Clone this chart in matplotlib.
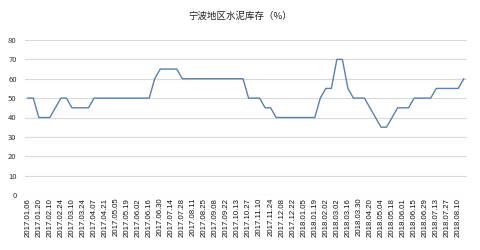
import matplotlib
matplotlib.use("Agg")
import matplotlib.pyplot as plt

plt.rcParams['font.family'] = ['Noto Sans CJK SC', 'DejaVu Sans']

title = "宁波地区水泥库存（%）"

dates = [
    "2017.01.06", "2017.01.13", "2017.01.20", "2017.01.27", "2017.02.10", "2017.02.17",
    "2017.02.24", "2017.03.03", "2017.03.10", "2017.03.17", "2017.03.24", "2017.03.31",
    "2017.04.07", "2017.04.14", "2017.04.21", "2017.04.28", "2017.05.05", "2017.05.12",
    "2017.05.19", "2017.05.26", "2017.06.02", "2017.06.09", "2017.06.16", "2017.06.23",
    "2017.06.30", "2017.07.07", "2017.07.14", "2017.07.21", "2017.07.28", "2017.08.04",
    "2017.08.11", "2017.08.18", "2017.08.25", "2017.09.01", "2017.09.08", "2017.09.15",
    "2017.09.22", "2017.09.29", "2017.10.13", "2017.10.20", "2017.10.27", "2017.11.03",
    "2017.11.10", "2017.11.17", "2017.11.24", "2017.12.01", "2017.12.08", "2017.12.15",
    "2017.12.22", "2017.12.29", "2018.01.05", "2018.01.12", "2018.01.19", "2018.01.26",
    "2018.02.02", "2018.02.09", "2018.03.02", "2018.03.09", "2018.03.16", "2018.03.23",
    "2018.03.30", "2018.04.13", "2018.04.20", "2018.04.27", "2018.05.04", "2018.05.11",
    "2018.05.18", "2018.05.25", "2018.06.01", "2018.06.08", "2018.06.15", "2018.06.22",
    "2018.06.29", "2018.07.06", "2018.07.13", "2018.07.20", "2018.07.27", "2018.08.03",
    "2018.08.10", "2018.08.17",
]

values = [
    50, 50, 40, 40, 40, 45, 50, 50, 45, 45,
    45, 45, 50, 50, 50, 50, 50, 50, 50, 50,
    50, 50, 50, 60, 65, 65, 65, 65, 60, 60,
    60, 60, 60, 60, 60, 60, 60, 60, 60, 60,
    50, 50, 50, 45, 45, 40, 40, 40, 40, 40,
    40, 40, 40, 50, 55, 55, 70, 70, 55, 50,
    50, 50, 45, 40, 35, 35, 40, 45, 45, 45,
    50, 50, 50, 50, 55, 55, 55, 55, 55, 60,
]

yticks = [0, 10, 20, 30, 40, 50, 60, 70, 80]

fig = plt.figure(figsize=(4.81, 2.5), dpi=100)
ax = fig.add_axes([0.052, 0.22, 0.918, 0.62])

x = list(range(len(values)))
ax.plot(x, values, color="#5b80aa", linewidth=1.0)

ax.set_xlim(-0.5, len(values) - 0.5)
ax.set_ylim(0, 80)
ax.set_yticks(yticks)
ax.set_yticklabels([str(v) for v in yticks], fontsize=5.5, color="#333333")
ax.grid(axis="y", color="#d9d9d9", linewidth=0.8)
ax.set_axisbelow(True)

ax.set_xticks(x[::2])
ax.set_xticklabels(dates[::2], rotation=90, fontsize=5.6, color="#111111",
                   family=["Liberation Sans", "DejaVu Sans"])
ax.tick_params(axis="both", length=0, pad=2)
ax.tick_params(axis="y", pad=6)

for s in ax.spines.values():
    s.set_visible(False)

fig.text(0.5, 0.935, title, ha="center", va="center", fontsize=6.8, color="#222222")

fig.savefig("out.png", dpi=100)
